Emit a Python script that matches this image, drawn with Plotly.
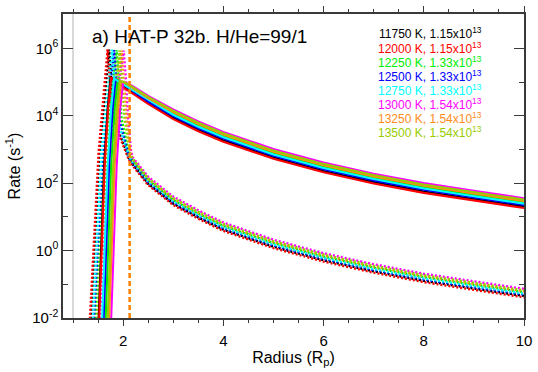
import plotly.graph_objects as go

# ---------------- data ----------------
LABELS = ["11750 K, 1.15x10<sup>13</sup>", "12000 K, 1.15x10<sup>13</sup>",
          "12250 K, 1.33x10<sup>13</sup>", "12500 K, 1.33x10<sup>13</sup>",
          "12750 K, 1.33x10<sup>13</sup>", "13000 K, 1.54x10<sup>13</sup>",
          "13250 K, 1.54x10<sup>13</sup>", "13500 K, 1.54x10<sup>13</sup>"]
COLORS = ["#000000", "#ff0000", "#00ee00", "#0000ff", "#00ffff", "#ff00ff", "#ff8c1a", "#99cc00"]

TAIL_R = [2.2, 2.5, 3.0, 3.5, 4.0, 5.0, 6.0, 7.0, 8.0, 9.0, 10.0]

# solid lines: head (rise + peak) radii and log10 rate, then tail (log10 rate on TAIL_R)
SOLID_HEAD_R = [
    [1.50, 1.62, 1.69, 1.75, 1.95],
    [1.51, 1.63, 1.70, 1.76, 1.95],
    [1.64, 1.76, 1.83, 1.89, 2.03],
    [1.60, 1.72, 1.79, 1.85, 2.00],
    [1.57, 1.69, 1.76, 1.82, 1.98],
    [1.75, 1.87, 1.94, 2.00, 2.10],
    [1.71, 1.83, 1.90, 1.96, 2.08],
    [1.68, 1.80, 1.87, 1.93, 2.06],
]
SOLID_HEAD_LOG = [
    [-2.5, 2.5, 4.2, 5.15, 4.93],
    [-2.5, 2.5, 4.2, 5.13, 4.90],
    [-2.5, 2.5, 4.2, 5.06, 4.95],
    [-2.5, 2.5, 4.2, 5.08, 4.93],
    [-2.5, 2.5, 4.2, 5.10, 4.95],
    [-2.5, 2.5, 4.2, 5.00, 4.95],
    [-2.5, 2.5, 4.2, 5.02, 4.94],
    [-2.5, 2.5, 4.2, 5.04, 4.97],
]
SOLID_TAIL_LOG = [
    [4.69, 4.38, 3.94, 3.58, 3.27, 2.76, 2.36, 2.03, 1.75, 1.52, 1.30],
    [4.66, 4.35, 3.90, 3.54, 3.23, 2.72, 2.32, 1.99, 1.71, 1.48, 1.26],
    [4.78, 4.49, 4.07, 3.71, 3.40, 2.89, 2.49, 2.16, 1.88, 1.65, 1.43],
    [4.73, 4.42, 3.99, 3.63, 3.32, 2.81, 2.41, 2.08, 1.80, 1.57, 1.35],
    [4.75, 4.46, 4.03, 3.67, 3.36, 2.85, 2.45, 2.12, 1.84, 1.61, 1.39],
    [4.87, 4.59, 4.19, 3.83, 3.52, 3.01, 2.61, 2.28, 2.00, 1.77, 1.55],
    [4.81, 4.52, 4.11, 3.75, 3.44, 2.93, 2.53, 2.20, 1.92, 1.69, 1.47],
    [4.84, 4.56, 4.15, 3.79, 3.48, 2.97, 2.57, 2.24, 1.96, 1.73, 1.51],
]

# dotted lines
DOT_HEAD_R = [
    [1.34, 1.53, 1.72, 1.76, 1.82, 2.12],
    [1.32, 1.51, 1.69, 1.73, 1.79, 2.12],
    [1.43, 1.62, 1.87, 1.91, 1.97, 2.12],
    [1.40, 1.59, 1.82, 1.86, 1.92, 2.12],
    [1.38, 1.57, 1.78, 1.82, 1.88, 2.12],
    [1.52, 1.71, 2.01, 2.05, 2.10, 2.16],
    [1.49, 1.68, 1.97, 2.01, 2.07, 2.15],
    [1.47, 1.66, 1.93, 1.97, 2.03, 2.14],
]
DOT_HEAD_LOG = [
    [-2.5, 2.9, 5.96, 5.2, 3.9, 2.72],
    [-2.5, 2.9, 5.97, 5.2, 3.9, 2.68],
    [-2.5, 2.9, 5.95, 5.2, 3.9, 2.83],
    [-2.5, 2.9, 5.95, 5.2, 3.9, 2.76],
    [-2.5, 2.9, 5.96, 5.2, 3.9, 2.79],
    [-2.5, 2.9, 5.93, 5.2, 3.9, 2.92],
    [-2.5, 2.9, 5.94, 5.2, 3.9, 2.86],
    [-2.5, 2.9, 5.94, 5.2, 3.9, 2.87],
]
DOT_TAIL_LOG = [
    [2.54, 1.98, 1.39, 0.98, 0.62, 0.11, -0.29, -0.62, -0.90, -1.13, -1.35],
    [2.50, 1.94, 1.35, 0.94, 0.58, 0.07, -0.33, -0.66, -0.94, -1.17, -1.39],
    [2.65, 2.09, 1.50, 1.09, 0.73, 0.22, -0.18, -0.51, -0.79, -1.02, -1.24],
    [2.58, 2.02, 1.43, 1.02, 0.66, 0.15, -0.25, -0.58, -0.86, -1.09, -1.31],
    [2.61, 2.05, 1.46, 1.05, 0.69, 0.18, -0.22, -0.55, -0.83, -1.06, -1.28],
    [2.75, 2.19, 1.60, 1.19, 0.83, 0.32, -0.08, -0.41, -0.69, -0.92, -1.14],
    [2.68, 2.12, 1.53, 1.12, 0.76, 0.25, -0.15, -0.48, -0.76, -0.99, -1.21],
    [2.71, 2.15, 1.56, 1.15, 0.79, 0.28, -0.12, -0.45, -0.73, -0.96, -1.18],
]

X_TICKS = [2, 4, 6, 8, 10]
X_MINOR = [1.0, 1.5, 2.5, 3.0, 3.5, 4.5, 5.0, 5.5, 6.5, 7.0, 7.5, 8.5, 9.0, 9.5]
Y_TICKS = [1e-2, 1e0, 1e2, 1e4, 1e6]
Y_TICKTEXT = ["10<sup>-2</sup>", "10<sup>0</sup>", "10<sup>2</sup>", "10<sup>4</sup>", "10<sup>6</sup>"]
Y_MINOR = [1e-1, 1e1, 1e3, 1e5]
SURFACE_R = 1.0
ROCHE_R = 2.13
TITLE = "a) HAT-P 32b. H/He=99/1"

# ---------------- figure ----------------
FONT = "Liberation Sans, Arial, Helvetica, sans-serif"
AXC = "#3a3a3a"
fig = go.Figure()

for i in range(len(LABELS)):
    r = DOT_HEAD_R[i] + TAIL_R
    v = [10 ** a for a in DOT_HEAD_LOG[i] + DOT_TAIL_LOG[i]]
    fig.add_trace(go.Scatter(x=r, y=v, mode="lines", showlegend=False,
                             line=dict(color=COLORS[i], width=2.4, dash="2px,2px")))
for i in range(len(LABELS)):
    r = SOLID_HEAD_R[i] + TAIL_R
    v = [10 ** a for a in SOLID_HEAD_LOG[i] + SOLID_TAIL_LOG[i]]
    fig.add_trace(go.Scatter(x=r, y=v, mode="lines", showlegend=False,
                             line=dict(color=COLORS[i], width=2.1)))

fig.add_shape(type="line", xref="x", yref="paper", x0=SURFACE_R, x1=SURFACE_R, y0=0, y1=1,
              line=dict(color="#cccccc", width=1.5), layer="below")
fig.add_shape(type="line", xref="x", yref="paper", x0=ROCHE_R, x1=ROCHE_R, y0=0, y1=1,
              line=dict(color="#ff8000", width=2.5, dash="5px,3px"))

fig.add_annotation(text=TITLE, xref="paper", yref="paper", x=0.058, y=0.926,
                   xanchor="left", yanchor="middle", showarrow=False,
                   font=dict(family=FONT, size=19, color="black"))
for i, lab in enumerate(LABELS):
    fig.add_annotation(text=lab, xref="paper", yref="paper", x=0.914,
                       y=(318 - (26 + 14.5 * i)) / 312,
                       xanchor="right", yanchor="middle", showarrow=False,
                       font=dict(family=FONT, size=12, color=COLORS[i]))

fig.update_xaxes(range=[0.8, 10.0], tickvals=X_TICKS, ticks="outside", ticklen=6,
                 tickwidth=1.3, tickcolor=AXC, showline=True, linecolor=AXC, linewidth=1.5,
                 mirror="allticks", showgrid=False, zeroline=False,
                 ticklabeloverflow="allow", ticklabelstandoff=2,
                 tickfont=dict(family=FONT, size=15, color="black"),
                 minor=dict(tickvals=X_MINOR, ticks="outside", ticklen=3.5, tickwidth=1.2,
                            tickcolor=AXC, showgrid=False),
                 title=dict(text="Radius (R<sub>p</sub>)", font=dict(family=FONT, size=16, color="black"),
                            standoff=2))
fig.update_yaxes(type="log", range=[-2.005, 7.02], tickvals=Y_TICKS, ticktext=Y_TICKTEXT,
                 ticks="inside", ticklen=10, tickwidth=1.3, tickcolor=AXC, showline=True,
                 linecolor=AXC, linewidth=1.5, mirror="allticks", showgrid=False, zeroline=False,
                 tickfont=dict(family=FONT, size=15, color="black"),
                 minor=dict(tickvals=Y_MINOR, ticks="inside", ticklen=5, tickwidth=1.2,
                            tickcolor=AXC, showgrid=False),
                 title=dict(text="Rate (s<sup>-1</sup>)", font=dict(family=FONT, size=16, color="black"),
                            standoff=8))

fig.update_layout(width=538, height=372, margin=dict(l=63, r=9, t=6, b=54),
                  paper_bgcolor="white", plot_bgcolor="white", showlegend=False,
                  font=dict(family=FONT, color="black"))

fig.write_html("out.html", config={"displayModeBar": False},
               post_script="document.body.style.margin='0';document.body.style.overflow='hidden';")
